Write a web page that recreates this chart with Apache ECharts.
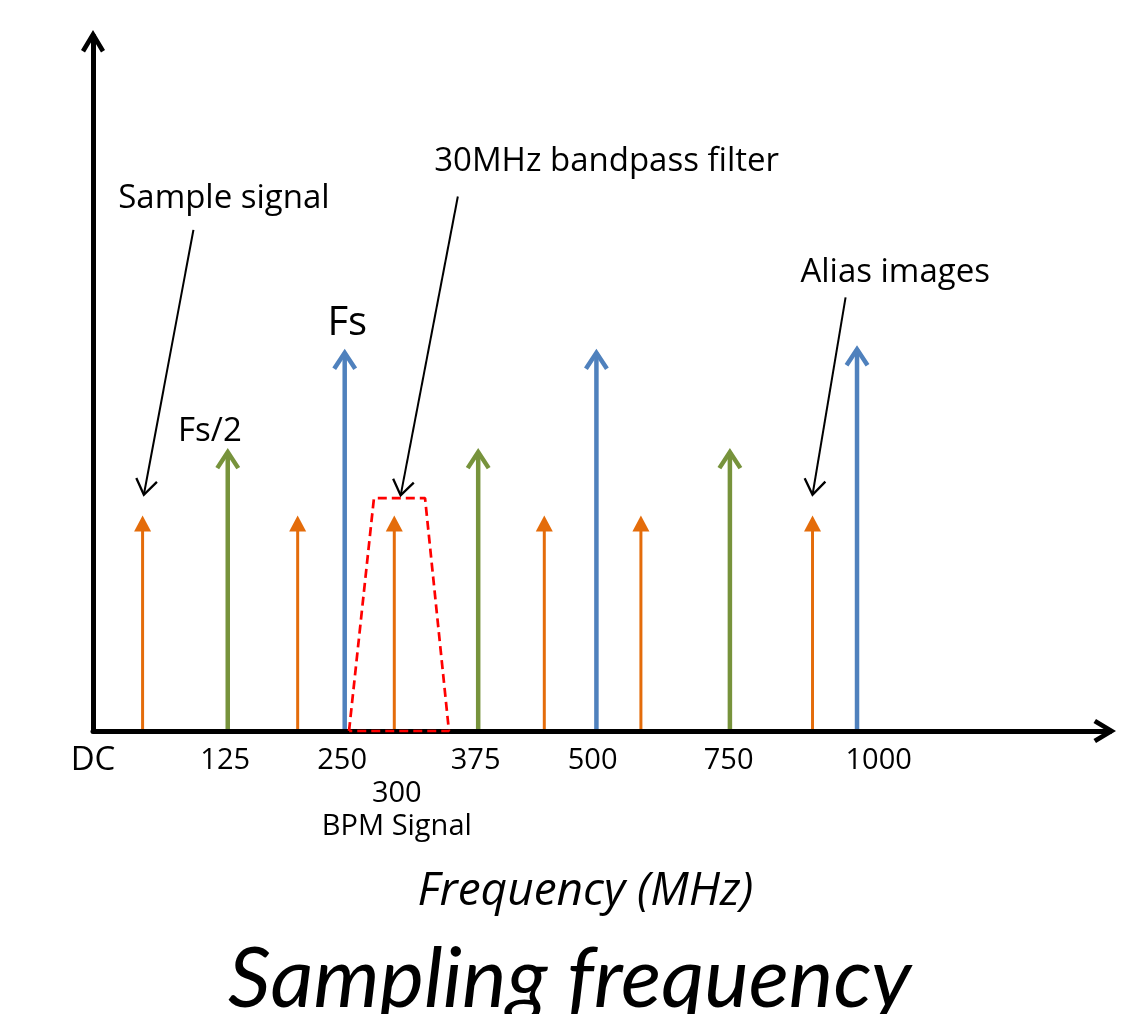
<!DOCTYPE html>
<html>
<head>
<meta charset="utf-8">
<script src="https://cdn.jsdelivr.net/npm/echarts@6/dist/echarts.min.js"></script>
<style>html,body{margin:0;padding:0;background:#fff}#c{width:1124px;height:1014px}</style>
</head>
<body>
<div id="c"></div>
<script>
// Schematic frequency axis: positions are in "slot" units along the drawn axis (0 = DC)
const tickPos  = [0, 1.04, 1.96, 2.39, 3.01, 3.93, 5.0, 6.18];
const tickText = ['DC', '125', '250', '300\nBPM Signal', '375', '500', '750', '1000'];

// Sampling frequency Fs and multiples (blue)
const fsPos    = [1.98, 3.96, 6.01];
const fsHeight = [55, 55, 55.5];
// Fs/2 and odd multiples (green)
const halfPos    = [1.06, 3.03, 5.01];
const halfHeight = [40.7, 40.7, 40.7];
// Sample signal and its alias images (orange)
const sigPos    = [0.39, 1.61, 2.37, 3.55, 4.31, 5.66];
const sigHeight = [31, 31, 31, 31, 31, 31];

// 30 MHz bandpass filter outline
const filterX = [2.014, 2.21, 2.612, 2.80, 2.014];
const filterY = [0, 33.5, 33.5, 0, 0];

// Annotations
const noteText = ['Sample signal', '30MHz bandpass filter', 'Alias images'];
const noteAt   = [[1.03, 76.6], [4.04, 81.9], [6.31, 66.0]];
const noteFrom = [[0.79, 72.1], [2.87, 76.9], [5.92, 62.4]];
const noteTo   = [[0.40, 34.0], [2.42, 33.9], [5.66, 34.0]];
const markText = ['Fs', 'Fs/2'];
const markAt   = [[2.0, 58.6], [0.92, 43.1]];

const FONT = '"Open Sans", Lato, sans-serif';
const TITLE_FONT = 'Lato, "Open Sans", sans-serif';
const chevron = 'path://M12,0 L24,20 L20,22.5 L12,9 L4,22.5 L0,20 Z';

function spectral(name, pos, height, color, width, head) {
  return {
    type: 'custom', name: name, z: 3, silent: true,
    data: pos.map((x, i) => [x, height[i]]),
    encode: { x: 0, y: 1 },
    renderItem: function (params, api) {
      const base = api.coord([api.value(0), 0]);
      const tip = api.coord([api.value(0), api.value(1)]);
      const x = tip[0], y = tip[1];
      if (head === 'open') {
        return { type: 'group', children: [
          { type: 'line', shape: { x1: x, y1: base[1] + 1, x2: x, y2: y + 4 },
            style: { stroke: color, lineWidth: width } },
          { type: 'polyline', shape: { points: [[x - 10.5, y + 20], [x, y + 4], [x + 10.5, y + 20]] },
            style: { stroke: color, lineWidth: width, fill: null, lineJoin: 'miter' } }
        ]};
      }
      return { type: 'group', children: [
        { type: 'line', shape: { x1: x, y1: base[1], x2: x, y2: y + 14 },
          style: { stroke: color, lineWidth: width } },
        { type: 'polygon', shape: { points: [[x - 8.5, y + 16], [x, y], [x + 8.5, y + 16]] },
          style: { fill: color } }
      ]};
    }
  };
}

const chart = echarts.init(document.getElementById('c'), null, { renderer: 'canvas' });
chart.setOption({
  animation: false,
  backgroundColor: '#fff',
  title: {
    text: 'Sampling frequency', left: 228, top: 938, padding: 0,
    textStyle: { fontFamily: TITLE_FONT, fontStyle: 'italic', fontWeight: 'normal', fontSize: 84, color: '#000' }
  },
  grid: { left: 93, right: 14, top: 36, bottom: 283, outerBoundsMode: 'none' },
  xAxis: {
    type: 'value', min: 0, max: 8, z: 5,
    axisLine: { lineStyle: { color: '#000', width: 5 }, symbol: ['none', chevron],
      symbolSize: [24, 22.5], symbolOffset: [0, -5.25] },
    axisTick: { show: false }, splitLine: { show: false },
    axisLabel: {
      customValues: tickPos, margin: 13, color: '#000', fontFamily: FONT, fontSize: 29, lineHeight: 33,
      formatter: function (v) {
        let k = 0, best = 1e9;
        tickPos.forEach((p, i) => { if (Math.abs(p - v) < best) { best = Math.abs(p - v); k = i; } });
        const t = tickText[k];
        if (t === 'DC') return '{dc|DC}';
        if (t.indexOf('\n') >= 0) return '\n' + t;
        return t;
      },
      rich: { dc: { fontSize: 33, fontFamily: FONT, lineHeight: 33, color: '#000' } }
    },
    name: 'Frequency (MHz)', nameLocation: 'middle', nameGap: 138,
    nameTextStyle: { fontFamily: FONT, fontStyle: 'italic', fontSize: 46, color: '#000', padding: [0, 32, 0, 0] }
  },
  yAxis: {
    type: 'value', min: 0, max: 100, z: 5,
    axisLine: { show: true, lineStyle: { color: '#000', width: 5 }, symbol: ['none', chevron],
      symbolSize: [24, 22.5], symbolOffset: [0, -5.25] },
    axisTick: { show: false }, axisLabel: { show: false }, splitLine: { show: false }
  },
  series: [
    spectral('Fs', fsPos, fsHeight, '#4F81BD', 4.5, 'open'),
    spectral('Fs/2', halfPos, halfHeight, '#77933C', 4.5, 'open'),
    spectral('Signal', sigPos, sigHeight, '#E46C0A', 3, 'solid'),
    {
      type: 'line', name: 'Bandpass filter', z: 6, silent: true, clip: false,
      data: filterX.map((x, i) => [x, filterY[i]]), symbol: 'none',
      lineStyle: { color: '#FF0000', width: 2.7, type: [9, 5] }
    },
    {
      type: 'custom', name: 'Notes', z: 7, silent: true,
      data: noteFrom.map((f, i) => [f[0], f[1], noteTo[i][0], noteTo[i][1]]),
      encode: { x: [0, 2], y: [1, 3] },
      renderItem: function (params, api) {
        const a = api.coord([api.value(0), api.value(1)]);
        const b = api.coord([api.value(2), api.value(3)]);
        const dx = b[0] - a[0], dy = b[1] - a[1], L = Math.sqrt(dx * dx + dy * dy);
        const ux = dx / L, uy = dy / L, nx = -uy, ny = ux;
        const back = 15, half = 10.5;
        return { type: 'group', children: [
          { type: 'line', shape: { x1: a[0], y1: a[1], x2: b[0] - ux, y2: b[1] - uy },
            style: { stroke: '#000', lineWidth: 2 } },
          { type: 'polyline', shape: { points: [
              [b[0] - ux * back + nx * half, b[1] - uy * back + ny * half],
              [b[0], b[1]],
              [b[0] - ux * back - nx * half, b[1] - uy * back - ny * half]] },
            style: { stroke: '#000', lineWidth: 2.3, fill: null } }
        ]};
      }
    },
    {
      type: 'custom', name: 'Labels', z: 7, silent: true,
      data: noteAt.map((p, i) => [p[0], p[1], i, 0]).concat(markAt.map((p, i) => [p[0], p[1], i, 1])),
      encode: { x: 0, y: 1 },
      renderItem: function (params, api) {
        const p = api.coord([api.value(0), api.value(1)]);
        const kind = api.value(3), idx = api.value(2);
        const text = kind === 0 ? noteText[idx] : markText[idx];
        const size = kind === 0 ? 33 : (idx === 0 ? 40 : 33);
        return { type: 'text', x: p[0], y: p[1], style: {
          text: text, fill: '#000', fontFamily: FONT, fontSize: size, align: 'center', verticalAlign: 'middle' } };
      }
    }
  ]
});
</script>
</body>
</html>
